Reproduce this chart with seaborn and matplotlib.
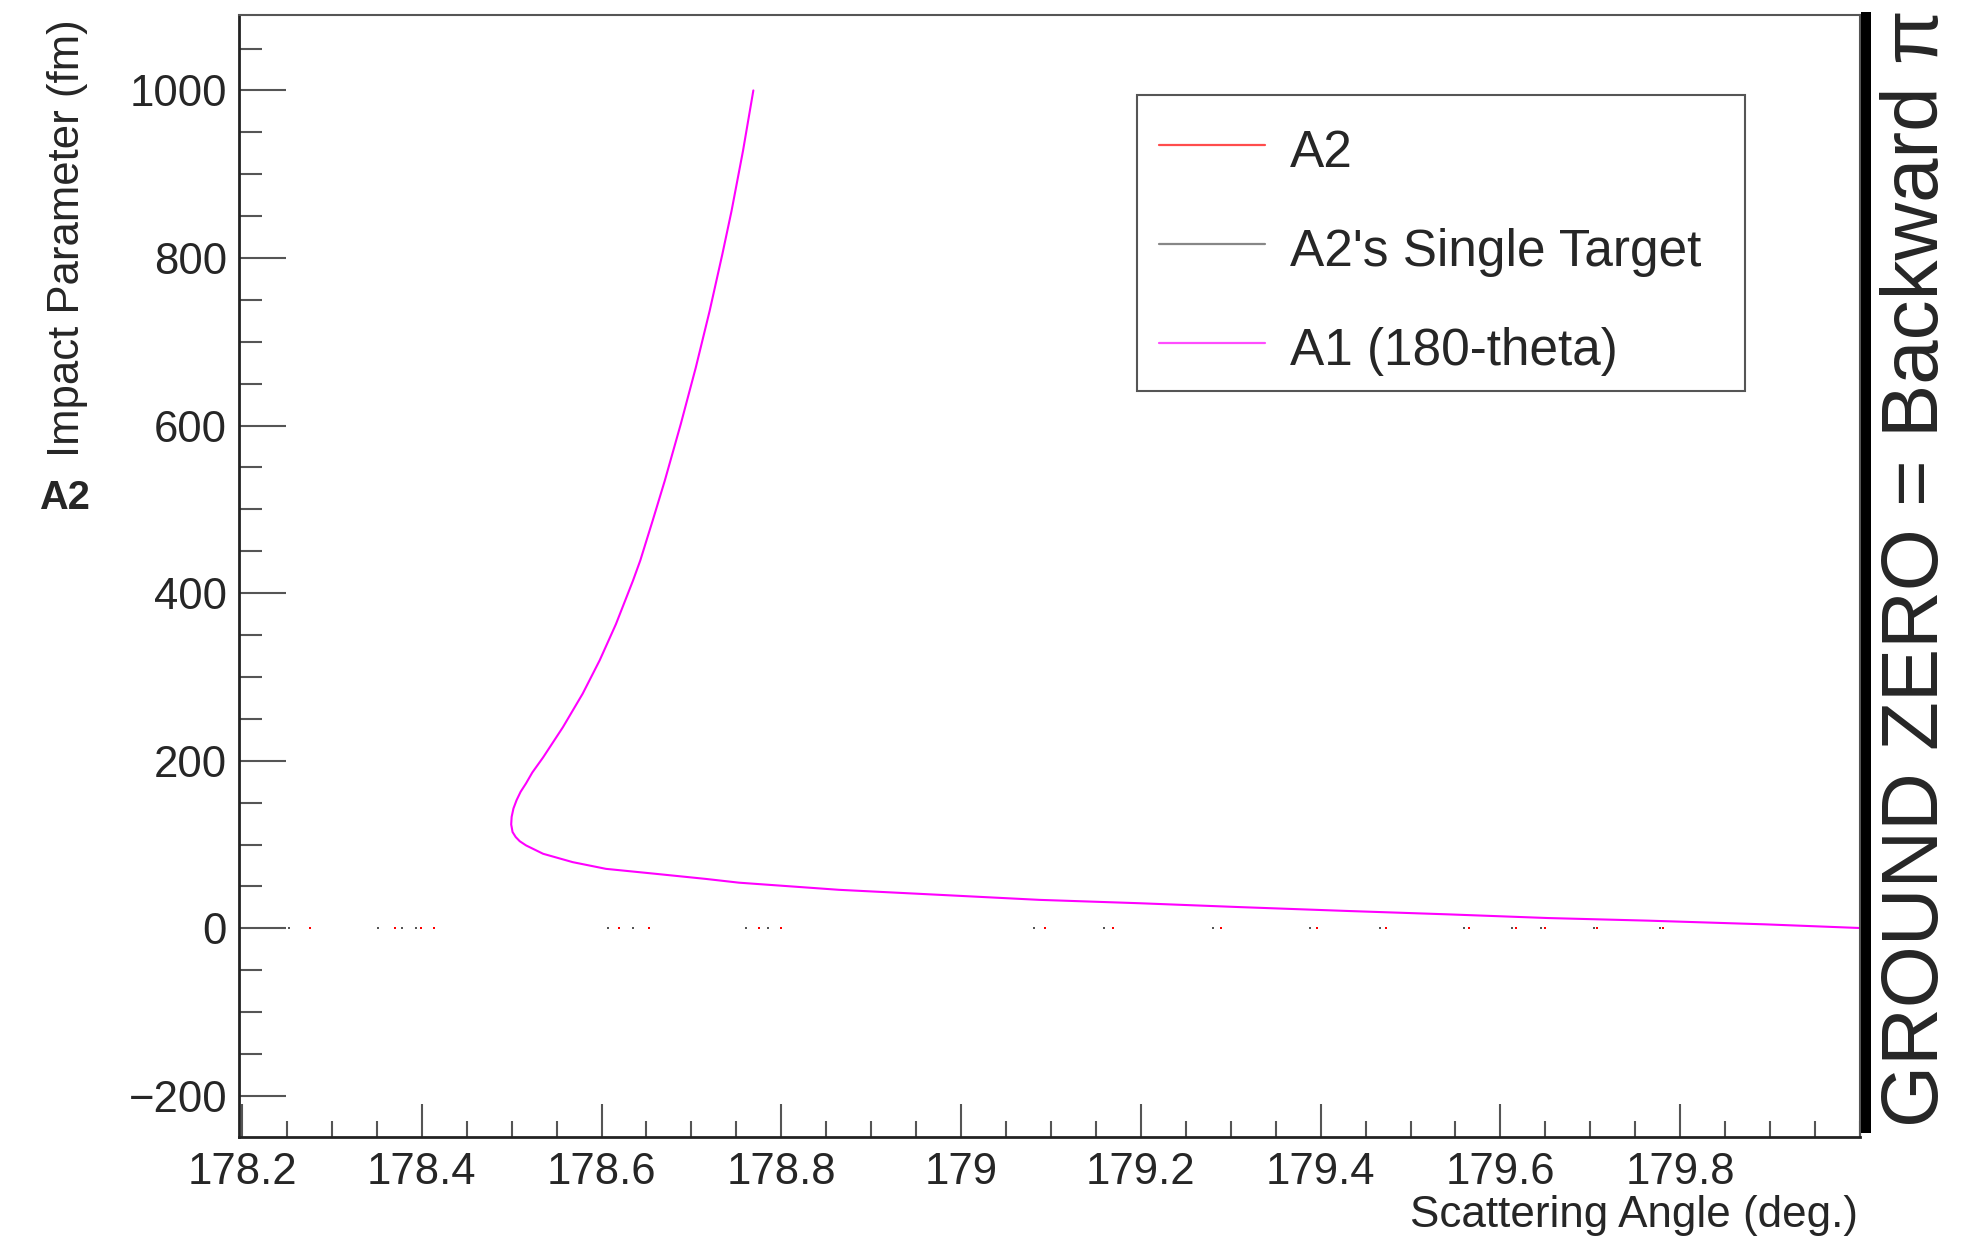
import numpy as np
import pandas as pd
import matplotlib
matplotlib.use("Agg")
import matplotlib.pyplot as plt
import seaborn as sns
from matplotlib.lines import Line2D
from matplotlib.patches import Rectangle
from matplotlib.ticker import FixedLocator, FixedFormatter, MultipleLocator

# ---------------- data ----------------
a1_angle = [178.7689, 178.7574, 178.7446, 178.7345, 178.7203, 178.7048, 178.6882,
            178.6703, 178.6570, 178.6431, 178.635, 178.616, 178.598, 178.579,
            178.557, 178.535, 178.523, 178.516, 178.510, 178.5055, 178.502,
            178.500, 178.4995, 178.501, 178.5045, 178.509, 178.516, 178.535,
            178.568, 178.605, 178.661, 178.716, 178.753, 178.864, 178.976,
            179.087, 179.198, 179.309, 179.431, 179.542, 179.653, 179.764,
            179.894, 180.0]
a1_impact = [1000, 928, 856, 805, 737, 669, 602,
             534, 487, 439, 415, 363, 320, 280,
             240, 204, 186, 173, 163, 153, 143,
             133, 124, 115, 109, 104, 99, 89,
             79, 71, 65, 59, 54.5, 46, 40,
             34, 30, 25.4, 20.7, 16.7, 12.3, 9.2,
             4.8, 0.4]

a2_angle = [178.2756, 178.3700, 178.3989, 178.4133, 178.6189, 178.6530, 178.7756,
            178.8000, 179.0930, 179.1686, 179.2886, 179.3964, 179.4730, 179.5645,
            179.6174, 179.6497, 179.7074, 179.7808]
a2_impact = [0.0] * len(a2_angle)

single_angle = [178.2256, 178.2522, 178.3511, 178.3778, 178.3933, 178.6070, 178.6352,
                178.7608, 178.7852, 179.0808, 179.1590, 179.2800, 179.3878, 179.4663,
                179.5597, 179.6130, 179.6456, 179.7037, 179.7778]
single_impact = [0.0] * len(single_angle)

series_names = ["A2", "A2's Single Target", "A1 (180-theta)"]
series_colors = ["#ff0000", "#555555", "#ff00ff"]

x_ticks = [178.2, 178.4, 178.6, 178.8, 179.0, 179.2, 179.4, 179.6, 179.8]
x_tick_labels = ["178.2", "178.4", "178.6", "178.8", "179", "179.2", "179.4", "179.6", "179.8"]
y_ticks = [-200, 0, 200, 400, 600, 800, 1000]
y_tick_labels = ["\u2212200", "0", "200", "400", "600", "800", "1000"]

x_label = "Scattering Angle (deg.)"
y_label = "Impact Parameter (fm)"
y_side_label = "A2"
right_text = "GROUND ZERO = Backward \u03c0"

# ---------------- figure ----------------
sns.set_style("white")
plt.rcParams['font.family'] = ['Liberation Sans', 'DejaVu Sans']

W, H = 1973, 1253
fig = plt.figure(figsize=(W / 100, H / 100), dpi=100)
fig.patch.set_facecolor("white")
ax = fig.add_axes([239 / W, 1 - 1137 / H, (1860 - 239) / W, (1137 - 15) / H])

df_a1 = pd.DataFrame({"angle": a1_angle, "impact": a1_impact})
df_a2 = pd.DataFrame({"angle": a2_angle, "impact": a2_impact})
df_single = pd.DataFrame({"angle": single_angle, "impact": single_impact})

sns.scatterplot(data=df_single, x="angle", y="impact", color=series_colors[1],
                marker="s", s=2.2, linewidth=0, ax=ax, legend=False)
sns.scatterplot(data=df_a2, x="angle", y="impact", color=series_colors[0],
                marker="s", s=2.2, linewidth=0, ax=ax, legend=False)
sns.lineplot(data=df_a1, x="angle", y="impact", sort=False, estimator=None,
             color=series_colors[2], lw=1.5, ax=ax, legend=False)

ax.set_xlim(178.1967, 180.0)
ax.set_ylim(-249, 1090)
ax.set_xlabel("")
ax.set_ylabel("")

ax.xaxis.set_major_locator(FixedLocator(x_ticks))
ax.xaxis.set_major_formatter(FixedFormatter(x_tick_labels))
ax.xaxis.set_minor_locator(MultipleLocator(0.05))
ax.yaxis.set_major_locator(FixedLocator(y_ticks))
ax.yaxis.set_major_formatter(FixedFormatter(y_tick_labels))
ax.yaxis.set_minor_locator(MultipleLocator(50))

tick_col = "#555555"
ax.tick_params(axis="y", which="major", direction="in", length=34, width=1.5,
               color=tick_col, labelsize=31.5, pad=8.6, left=True, right=False)
ax.tick_params(axis="y", which="minor", direction="in", length=16.5, width=1.5,
               color=tick_col, left=True, right=False)
ax.tick_params(axis="x", which="major", direction="in", length=24, width=1.5,
               color=tick_col, labelsize=31.5, pad=11, bottom=True, top=False)
ax.tick_params(axis="x", which="minor", direction="in", length=11.5, width=1.5,
               color=tick_col, bottom=True, top=False)

for side in ["left", "bottom"]:
    ax.spines[side].set_color("#222222")
    ax.spines[side].set_linewidth(2.0)
for side in ["top", "right"]:
    ax.spines[side].set_color("#555555")
    ax.spines[side].set_linewidth(1.5)

# legend: frame drawn as a box, entries placed inside it
def ax_x(px):
    return (px - 239) / 1621.0

def ax_y(py):
    return 1 - (py - 15) / 1122.0

ax.add_patch(Rectangle((ax_x(1137), ax_y(391)), ax_x(1745) - ax_x(1137),
                       ax_y(95) - ax_y(391), transform=ax.transAxes,
                       facecolor="white", edgecolor="#555555", lw=1.5, zorder=5))
handles = [Line2D([], [], color=c, lw=1.6, alpha=0.7) for c in series_colors]
leg = ax.legend(handles, series_names, loc="upper left",
                bbox_to_anchor=(ax_x(1141), ax_y(105.5)),
                fontsize=37, frameon=False, borderpad=0.35, labelspacing=0.856,
                handlelength=2.06, handleheight=1.2, handletextpad=0.49,
                borderaxespad=0.0)
leg.set_zorder(6)

# axis titles
fig.text(1858 / W, 1 - 1227 / H, x_label, ha="right", va="baseline", fontsize=31.7)
fig.text(68 / W, 1 - 19 / H, y_label, ha="center", va="top", rotation=90, fontsize=31.5)
fig.text(64 / W, 1 - 498 / H, y_side_label, ha="center", va="center",
         fontsize=28.6, fontweight="bold")

# thick bar + right vertical text
fig.add_artist(Rectangle((1861 / W, 1 - 1133 / H), 10 / W, (1133 - 12) / H,
                         transform=fig.transFigure, facecolor="black",
                         edgecolor="none"))
fig.text(1938.3 / W, 1 - 1127 / H, right_text, rotation=90, rotation_mode="anchor",
         ha="left", va="baseline", fontsize=57.5)

fig.savefig("out.png", dpi=100, facecolor="white")
